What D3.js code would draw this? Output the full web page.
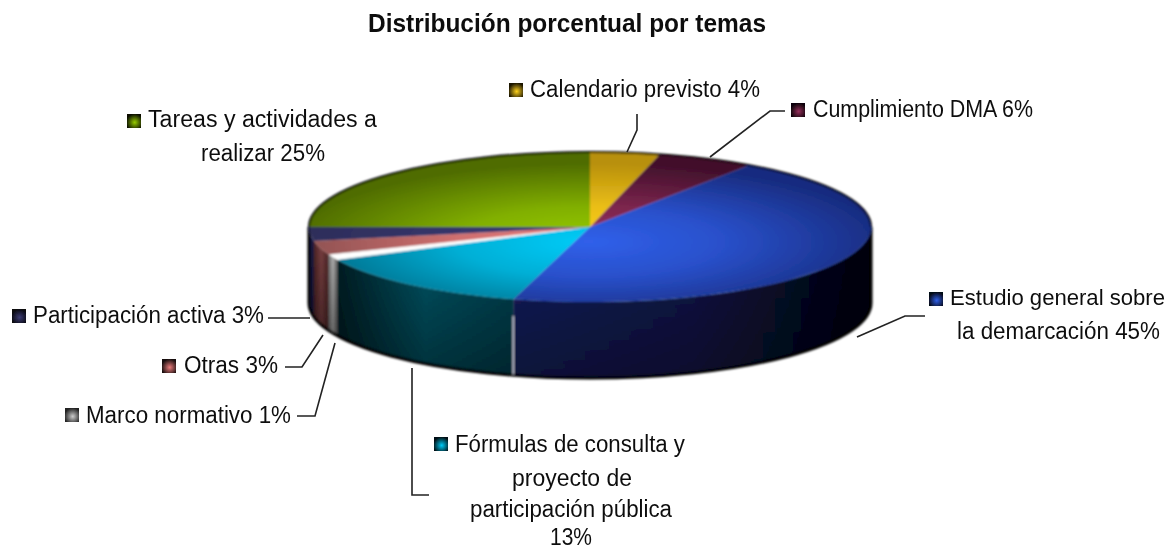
<!DOCTYPE html>
<html>
<head>
<meta charset="utf-8">
<script src="https://cdn.jsdelivr.net/npm/d3@7"></script>
<style>
  html, body { margin: 0; padding: 0; background: #fff; }
  text { font-family: "Liberation Sans", Arial, sans-serif; fill: #111; }
</style>
</head>
<body>
<svg id="chart" width="1171" height="549"></svg>
<script>
const categories = [
  'Calendario previsto',
  'Cumplimiento DMA',
  'Estudio general sobre la demarcación',
  'Fórmulas de consulta y proyecto de participación pública',
  'Marco normativo',
  'Otras',
  'Participación activa',
  'Tareas y actividades a realizar'
];
const shares = [4, 5.6, 44.8, 13.4, 1.2, 3, 3, 25];

// top surface: centre colour, rim colour
const topCentre = ['#ffd21c', '#96305c', '#3060ea', '#00ccf8', '#ffffff', '#ec7c7c', '#3c3c74', '#96cc00'];
const topRim = ['#b8900c', '#42102c', '#182c80', '#006a85', '#ffffff', '#8a5050', '#2c2c58', '#4f6c04'];
// side wall: left, middle, right colour
const sideLeft = ['#000', '#000', '#161e60', '#001c22', '#666', '#4c2424', '#05051a', '#000'];
const sideMid = ['#000', '#000', '#10164a', '#005060', '#b5b5b5', '#7a4042', '#1c1c4c', '#000'];
const sideRight = ['#000', '#000', '#00000a', '#003e4c', '#555', '#4a2424', '#14143c', '#000'];

// label layout: one entry per category, lines with x, baseline and measured width
const labelLines = [
  [{ t: 'Calendario previsto 4%', x: 530, y: 97, w: 230 }],
  [{ t: 'Cumplimiento DMA 6%', x: 813, y: 117, w: 220 }],
  [{ t: 'Estudio general sobre', x: 950, y: 305, w: 215, size: 22 }, { t: 'la demarcación 45%', x: 957, y: 339, w: 203 }],
  [
    { t: 'Fórmulas de consulta y', x: 455, y: 452, w: 230 },
    { t: 'proyecto de', x: 512, y: 486, w: 120 },
    { t: 'participación pública', x: 470, y: 517, w: 202 },
    { t: '13%', x: 550, y: 545, w: 42 }
  ],
  [{ t: 'Marco normativo 1%', x: 86, y: 423, w: 205 }],
  [{ t: 'Otras 3%', x: 184, y: 373, w: 94 }],
  [{ t: 'Participación activa 3%', x: 33, y: 323, w: 231 }],
  [{ t: 'Tareas y actividades a', x: 148, y: 127, w: 229 }, { t: 'realizar 25%', x: 201, y: 161, w: 124 }]
];
const swatchPos = [[509, 83], [791, 103], [929, 292], [434, 437], [65, 408], [162, 359], [12, 309], [127, 114]];
const leaders = [
  [[627, 152], [637, 130], [637, 114]],
  [[710, 157], [770, 111], [785, 111]],
  [[857, 337], [905, 316], [925, 316]],
  [[412, 368], [412, 495], [429, 495]],
  [[335, 343], [315, 416], [297, 416]],
  [[323, 335], [302, 367], [285, 367]],
  [[310, 318], [268, 318]]
];

const cx = 590, cy = 227, rx = 281, ry = 75, depth = 76;
const svg = d3.select('#chart');
const defs = svg.append('defs');

const soft = defs.append('filter').attr('id', 'soft');
soft.append('feGaussianBlur').attr('stdDeviation', 0.8);
const softText = defs.append('filter').attr('id', 'softText');
softText.append('feGaussianBlur').attr('stdDeviation', 0.4);

categories.forEach((c, i) => {
  const g = defs.append('radialGradient').attr('id', `top${i}`)
    .attr('gradientUnits', 'userSpaceOnUse')
    .attr('cx', 0).attr('cy', 0.2).attr('r', 1.05);
  g.append('stop').attr('offset', '0%').attr('stop-color', topCentre[i]);
  g.append('stop').attr('offset', '45%').attr('stop-color', d3.interpolateRgb(topCentre[i], topRim[i])(0.3));
  g.append('stop').attr('offset', '100%').attr('stop-color', topRim[i]);

  const s = defs.append('linearGradient').attr('id', `side${i}`)
    .attr('gradientUnits', 'userSpaceOnUse');
  s.attr('x1', 0).attr('x2', 1);
  s.append('stop').attr('offset', '0%').attr('stop-color', sideLeft[i]);
  s.append('stop').attr('offset', '50%').attr('stop-color', sideMid[i]);
  s.append('stop').attr('offset', '100%').attr('stop-color', sideRight[i]);

  const w = defs.append('radialGradient').attr('id', `swatch${i}`)
    .attr('cx', 0.55).attr('cy', 0.6).attr('r', 0.6);
  w.append('stop').attr('offset', '0%').attr('stop-color', i === 4 ? '#ccc' : topCentre[i]);
  w.append('stop').attr('offset', '100%').attr('stop-color', i === 4 ? '#222' : d3.interpolateRgb(topRim[i], '#000')(0.85));
});

const shade = defs.append('linearGradient').attr('id', 'sideShade').attr('x1', 0).attr('x2', 0).attr('y1', 0).attr('y2', 1);
shade.append('stop').attr('offset', '0%').attr('stop-color', '#000').attr('stop-opacity', 0);
shade.append('stop').attr('offset', '100%').attr('stop-color', '#000').attr('stop-opacity', 0.4);

const slices = d3.pie().sort(null)(shares);
const arc = d3.arc().innerRadius(0).outerRadius(1);

// unit circle angle (clockwise from 12 o'clock) to picture position
const px = d3.scaleLinear().domain([-1, 1]).range([cx - rx, cx + rx]);
const py = d3.scaleLinear().domain([-1, 1]).range([cy - ry, cy + ry]);
const edge = (a) => [px(Math.sin(a)), py(-Math.cos(a))];

const pie3d = svg.append('g').attr('filter', 'url(#soft)');

// side walls, only the front half of the rim shows
const front = slices
  .map((d, i) => ({
    i,
    a0: Math.max(d.startAngle, Math.PI / 2),
    a1: Math.min(d.endAngle, Math.PI * 1.5)
  }))
  .filter((d) => d.a1 > d.a0);

const wall = (d) => {
  const [x0, y0] = edge(d.a0);
  const [x1, y1] = edge(d.a1);
  return `M${x0},${y0}A${rx},${ry} 0 0 1 ${x1},${y1}L${x1},${y1 + depth}A${rx},${ry} 0 0 0 ${x0},${y0 + depth}Z`;
};

front.forEach((d) => {
  defs.select(`#side${d.i}`).attr('x1', edge(d.a1)[0]).attr('x2', edge(d.a0)[0]);
});

pie3d.selectAll('path.wall').data(front).join('path')
  .attr('class', 'wall')
  .attr('d', wall)
  .attr('fill', (d) => `url(#side${d.i})`);

pie3d.selectAll('path.wallShade').data(front).join('path')
  .attr('class', 'wallShade')
  .attr('d', wall)
  .attr('fill', 'url(#sideShade)');

// outline of the whole wall, heavy on the bottom rim
const [lx, ly] = edge(Math.PI * 1.5);
const [rxx, ryy] = edge(Math.PI / 2);
pie3d.append('path')
  .attr('d', `M${rxx},${ryy}L${rxx},${ryy + depth}A${rx},${ry} 0 0 1 ${lx},${ly + depth}L${lx},${ly}`)
  .attr('fill', 'none').attr('stroke', '#000').attr('stroke-width', 3);

// white seam between the two front walls
const seamAngle = slices[2].endAngle;
pie3d.append('line')
  .attr('x1', edge(seamAngle)[0]).attr('x2', edge(seamAngle)[0])
  .attr('y1', edge(seamAngle)[1] + 17).attr('y2', edge(seamAngle)[1] + depth - 1)
  .attr('stroke', '#ccd').attr('stroke-width', 1.5);

// top surface
const topG = pie3d.append('g').attr('transform', `translate(${cx},${cy}) scale(${rx},${ry})`);
topG.selectAll('path').data(slices).join('path')
  .attr('d', arc)
  .attr('fill', (d, i) => `url(#top${i})`);

// dark rim around the back of the ellipse
pie3d.append('path')
  .attr('d', `M${lx},${ly}A${rx},${ry} 0 0 1 ${rxx},${ryy}`)
  .attr('fill', 'none').attr('stroke', '#000').attr('stroke-width', 2);

// leader lines
svg.append('g').attr('filter', 'url(#softText)')
  .selectAll('polyline').data(leaders).join('polyline')
  .attr('points', (d) => d.join(' '))
  .attr('fill', 'none').attr('stroke', '#222').attr('stroke-width', 1.6);

// swatches
svg.append('g').attr('filter', 'url(#softText)')
  .selectAll('rect').data(categories).join('rect')
  .attr('x', (d, i) => swatchPos[i][0])
  .attr('y', (d, i) => swatchPos[i][1])
  .attr('width', 14).attr('height', 14)
  .attr('fill', (d, i) => `url(#swatch${i})`);

// labels
const labels = svg.append('g').attr('filter', 'url(#softText)');
labels.selectAll('text').data(labelLines.flat()).join('text')
  .attr('x', (d) => d.x)
  .attr('y', (d) => d.y)
  .attr('font-size', (d) => d.size || 23)
  .attr('textLength', (d) => d.w)
  .attr('lengthAdjust', 'spacingAndGlyphs')
  .text((d) => d.t);

labels.append('text')
  .attr('x', 368).attr('y', 32)
  .attr('font-size', 25.5)
  .attr('font-weight', 700)
  .attr('textLength', 398)
  .attr('lengthAdjust', 'spacingAndGlyphs')
  .text('Distribución porcentual por temas');
</script>
</body>
</html>
